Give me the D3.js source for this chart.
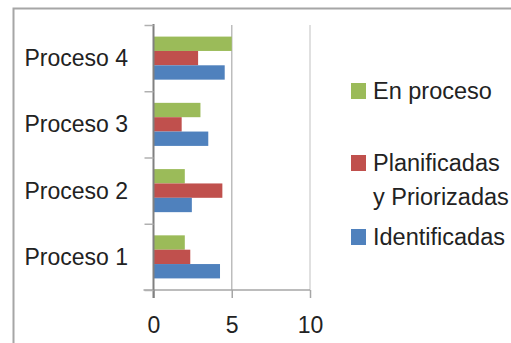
<!DOCTYPE html>
<html>
<head>
<meta charset="utf-8">
<script src="https://cdn.jsdelivr.net/npm/d3@7/dist/d3.min.js"></script>
<style>
  html, body { margin: 0; padding: 0; background: #fff; }
  svg { display: block; }
  text { font-family: "Liberation Sans", Arial, sans-serif; fill: #222; }
</style>
</head>
<body>
<svg id="chart" width="511" height="343"></svg>
<script>
// Categories and series values
const categories = ["Proceso 1", "Proceso 2", "Proceso 3", "Proceso 4"];
const identificadas = [4.25, 2.45, 3.5, 4.55];
const planificadas = [2.35, 4.4, 1.8, 2.85];
const enProceso = [2.0, 2.0, 3.0, 5.0];
const xTicks = [0, 5, 10];

const seriesNames = ["En proceso", "Planificadas y Priorizadas", "Identificadas"];
const seriesColors = ["#9BBB59", "#C0504D", "#4F81BD"];
const seriesValues = [enProceso, planificadas, identificadas];

const svg = d3.select("#chart");

// Outer frame
svg.append("rect")
  .attr("x", 13.5).attr("y", 8.5)
  .attr("width", 520).attr("height", 360)
  .attr("fill", "none")
  .attr("stroke", "#a6a6a6")
  .attr("stroke-width", 2);

const plot = { left: 153.5, right: 310, top: 25, bottom: 290 };

const x = d3.scaleLinear().domain([0, 10]).range([plot.left, plot.right]);
const y = d3.scaleBand()
  .domain(categories.slice().reverse())
  .range([plot.top, plot.bottom])
  .paddingInner(0.35)
  .paddingOuter(0.175);
const ySeries = d3.scaleBand()
  .domain(seriesNames)
  .range([0, y.bandwidth()]);

// Vertical gridlines
svg.append("g")
  .selectAll("line")
  .data(xTicks.filter(d => d > 0))
  .join("line")
  .attr("x1", d => x(d)).attr("x2", d => x(d))
  .attr("y1", plot.top).attr("y2", plot.bottom)
  .attr("stroke", (d, i) => i === 0 ? "#bdbdbd" : "#d6d6d6")
  .attr("stroke-width", 1.5);

// Bars
const rows = categories.map((c, i) => ({ c, i }));
seriesNames.forEach((name, s) => {
  svg.append("g")
    .selectAll("rect")
    .data(rows)
    .join("rect")
    .attr("x", x(0))
    .attr("y", d => y(d.c) + ySeries(name))
    .attr("width", d => x(seriesValues[s][d.i]) - x(0))
    .attr("height", ySeries.bandwidth())
    .attr("fill", seriesColors[s]);
});

// Horizontal value axis
const xAxis = svg.append("g")
  .attr("transform", `translate(0,${plot.bottom})`)
  .call(d3.axisBottom(x).tickValues(xTicks).tickSize(8).tickSizeOuter(0).tickPadding(19));
xAxis.select(".domain").attr("stroke", "#a6a6a6").attr("stroke-width", 1.5)
  .attr("d", `M${plot.left - 10},0H${plot.right}`);
xAxis.selectAll(".tick line").attr("stroke", "#a6a6a6").attr("stroke-width", 1.5);
xAxis.selectAll(".tick text")
  .style("font-family", '"Liberation Sans", Arial, sans-serif')
  .attr("font-size", 23)
  .attr("fill", "#222");

// Category axis: boundary ticks between categories
const yEdges = d3.scaleLinear().domain([0, categories.length]).range([plot.bottom, plot.top]);
const yAxis = svg.append("g")
  .attr("transform", `translate(${plot.left},0)`)
  .call(d3.axisLeft(yEdges).tickValues(d3.range(categories.length + 1)).tickSize(9).tickSizeOuter(0).tickFormat(""));
yAxis.select(".domain").attr("stroke", "#808080").attr("stroke-width", 2)
  .attr("d", `M0,${plot.top - 1}V${plot.bottom + 8}`);
yAxis.selectAll(".tick line").attr("stroke", "#b0b0b0").attr("stroke-width", 1.5);

// Category labels
svg.append("g")
  .selectAll("text")
  .data(categories)
  .join("text")
  .attr("x", 128)
  .attr("y", d => y(d) + y.bandwidth() / 2)
  .attr("dy", "0.35em")
  .attr("text-anchor", "end")
  .attr("font-size", 23)
  .text(d => d);

// Legend
const legendItems = [
  { lines: ["En proceso"], y: 91 },
  { lines: ["Planificadas", "y Priorizadas"], y: 163 },
  { lines: ["Identificadas"], y: 237 }
];
const legend = svg.append("g");
legendItems.forEach((item, i) => {
  legend.append("rect")
    .attr("x", 351).attr("y", item.y - 8)
    .attr("width", 15).attr("height", 16)
    .attr("fill", seriesColors[i]);
  item.lines.forEach((line, j) => {
    legend.append("text")
      .attr("x", 373)
      .attr("y", item.y + j * 34)
      .attr("dy", "0.35em")
      .attr("font-size", 23.5)
      .text(line);
  });
});
</script>
</body>
</html>
